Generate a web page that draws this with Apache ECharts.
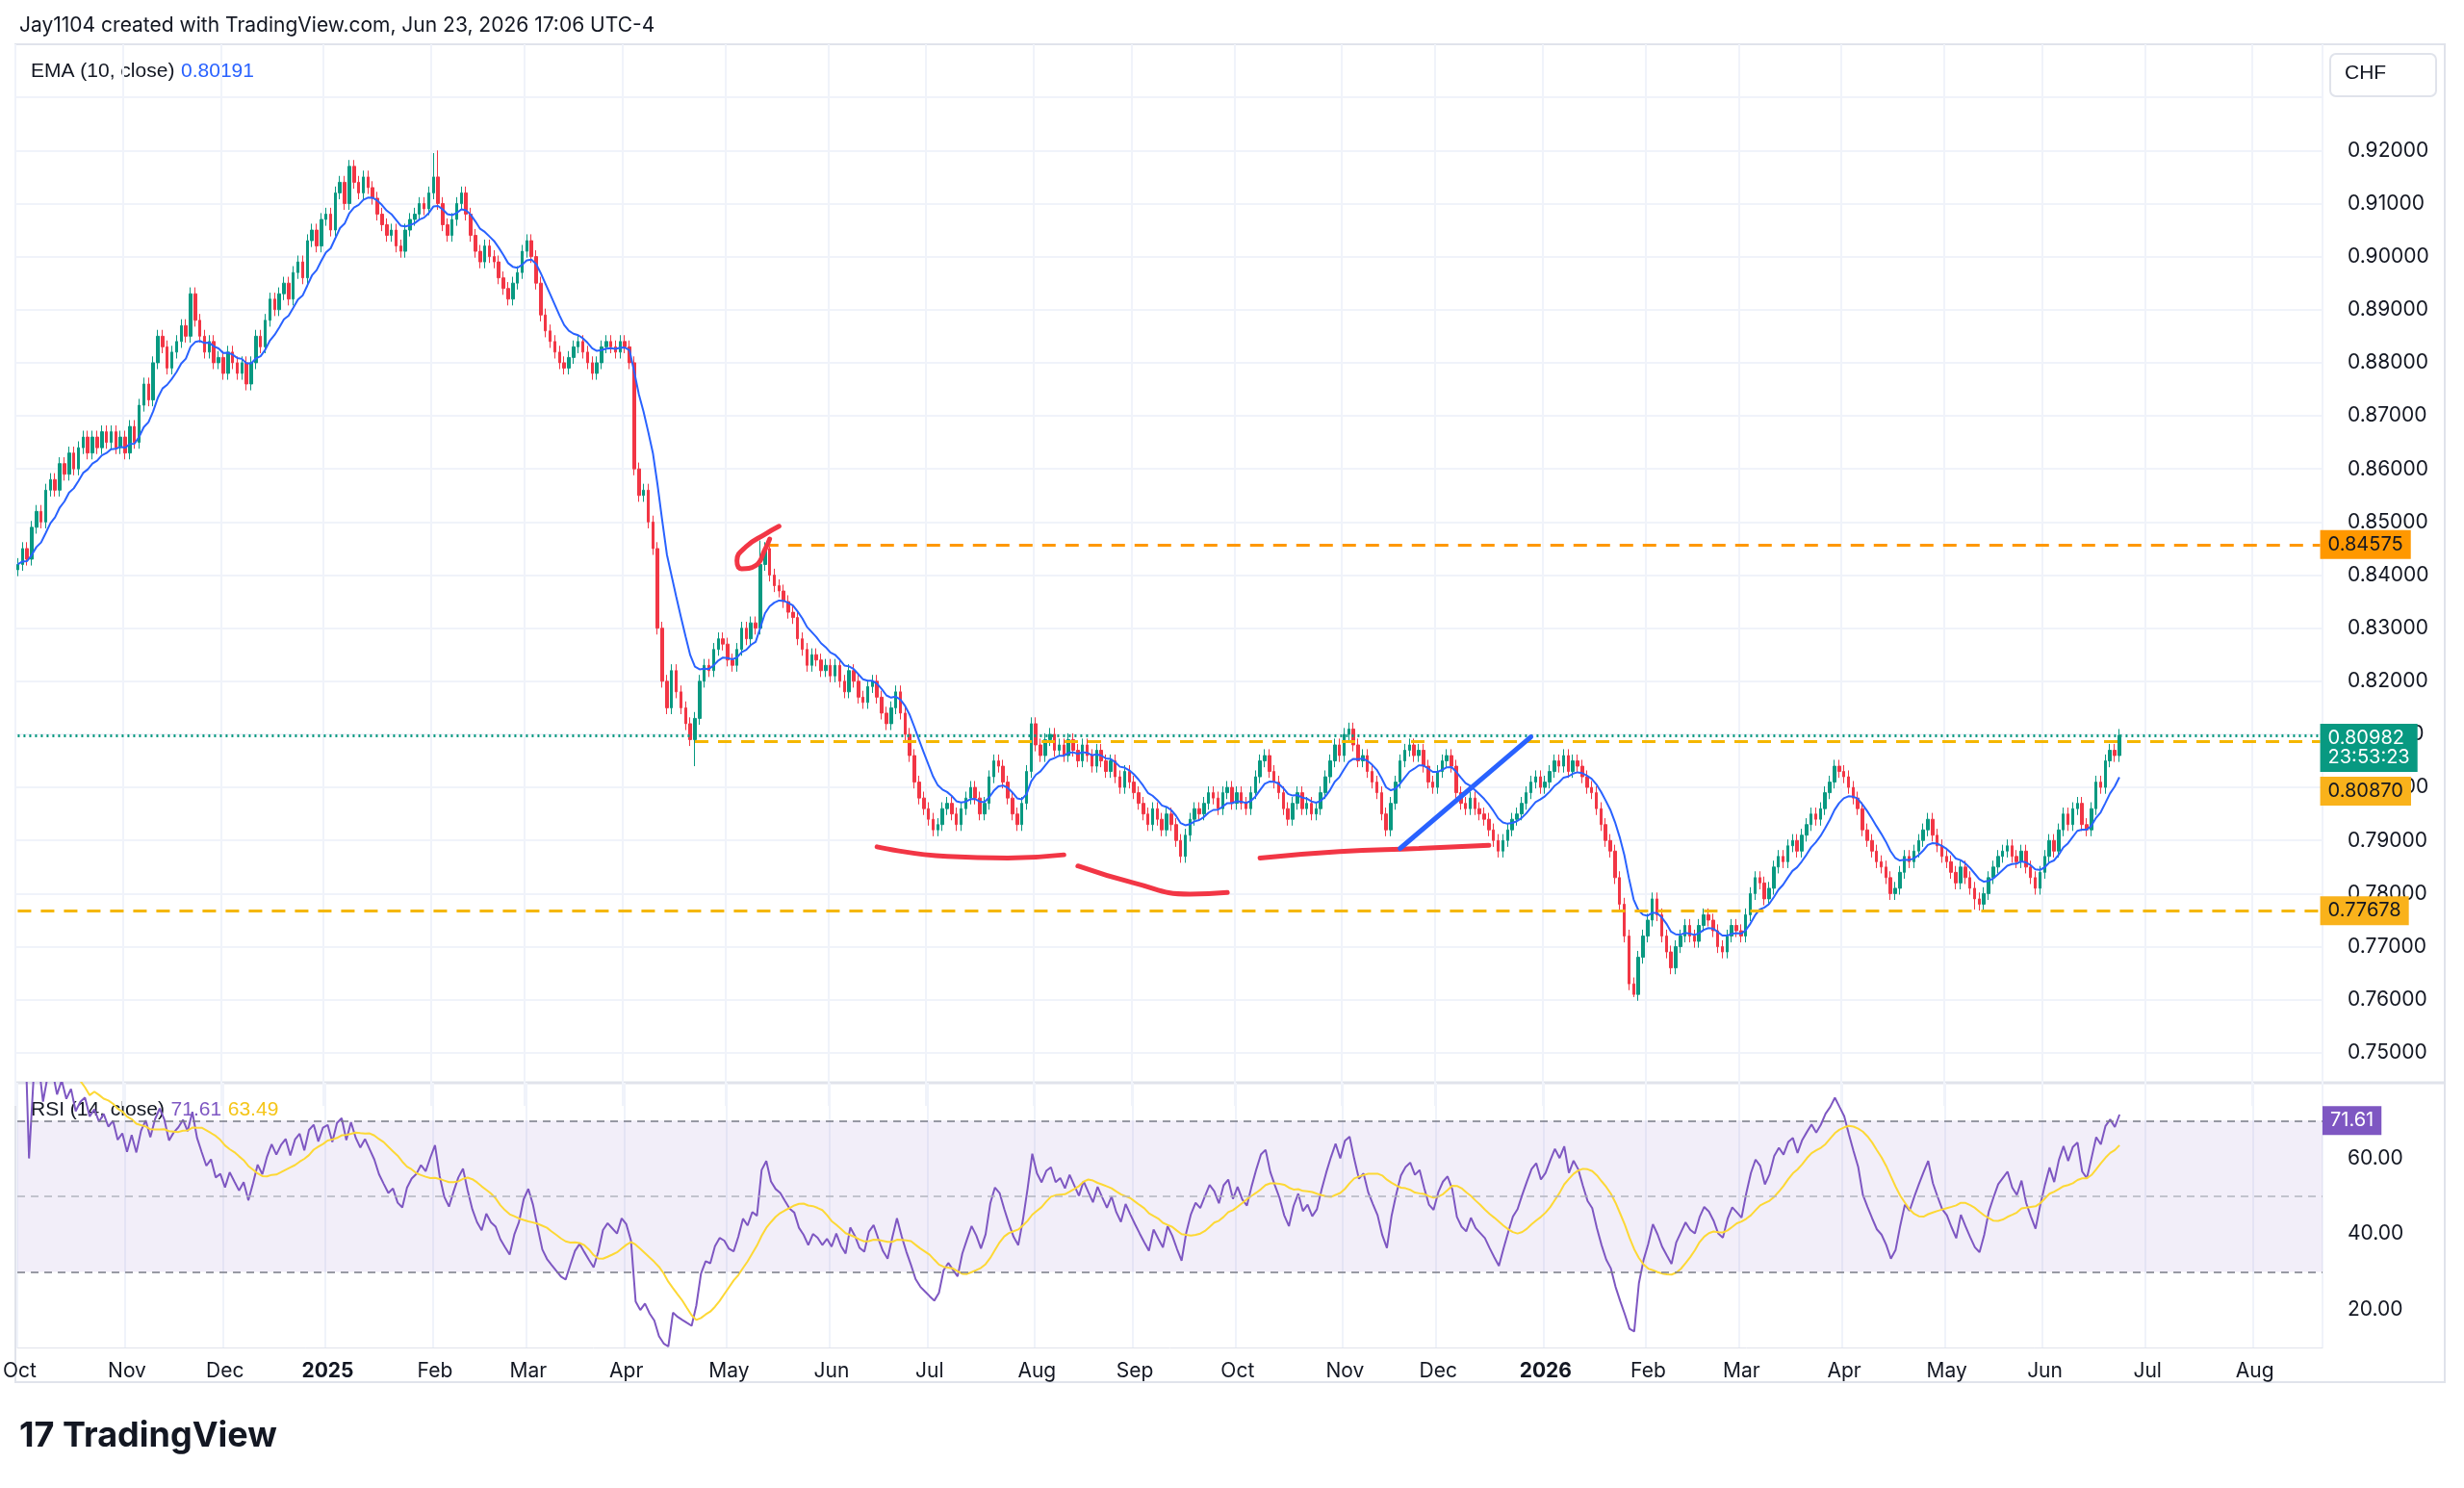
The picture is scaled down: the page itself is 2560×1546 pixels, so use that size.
<!DOCTYPE html>
<html style="height: 100%">
<head>
<meta charset="utf-8">
<script src="https://cdn.jsdelivr.net/npm/echarts@6/dist/echarts.min.js"></script>
</head>
<body style="height: 100%; margin: 0; background: #fff">
<div id="container" style="height: 100%"></div>
<script>
// daily closes, USD/CHF, by month
var closes = [].concat(
 [0.8420,0.8450,0.8430,0.8490,0.8520,0.8500,0.8560,0.8580,0.8560,0.8610,0.8590,0.8630,0.8600,0.8640,0.8660,0.8630,0.8660,0.8640,0.8670,0.8650,0.8670,0.8640,0.8660],
 [0.8630,0.8680,0.8650,0.8720,0.8760,0.8730,0.8800,0.8850,0.8830,0.8790,0.8820,0.8840,0.8870,0.8850,0.8930,0.8880,0.8850,0.8820,0.8840,0.8800,0.8810],
 [0.8780,0.8820,0.8800,0.8780,0.8800,0.8760,0.8800,0.8850,0.8830,0.8880,0.8920,0.8900,0.8930,0.8950,0.8920,0.8970,0.8990,0.8960,0.9030,0.9050,0.9020,0.9070],
 [0.9080,0.9050,0.9120,0.9140,0.9100,0.9170,0.9140,0.9120,0.9150,0.9130,0.9110,0.9080,0.9060,0.9040,0.9050,0.9020,0.9010,0.9050,0.9070,0.9080,0.9100,0.9090,0.9120],
 [0.9150,0.9100,0.9060,0.9040,0.9070,0.9100,0.9120,0.9080,0.9040,0.9010,0.8990,0.9020,0.9000,0.8990,0.8960,0.8940,0.8920,0.8950,0.8970,0.9010],
 [0.9030,0.9000,0.8950,0.8890,0.8860,0.8840,0.8820,0.8800,0.8790,0.8810,0.8830,0.8840,0.8820,0.8800,0.8780,0.8800,0.8830,0.8840,0.8830,0.8820,0.8840],
 [0.8830,0.8800,0.8600,0.8550,0.8560,0.8500,0.8450,0.8300,0.8200,0.8150,0.8220,0.8180,0.8150,0.8120,0.8090,0.8130,0.8200,0.8230,0.8220,0.8260,0.8280,0.8270],
 [0.8240,0.8230,0.8260,0.8300,0.8280,0.8310,0.8300,0.8420,0.8450,0.8400,0.8380,0.8370,0.8350,0.8330,0.8320,0.8280,0.8260,0.8230,0.8250,0.8240,0.8220,0.8230],
 [0.8210,0.8230,0.8200,0.8180,0.8220,0.8200,0.8170,0.8160,0.8190,0.8200,0.8170,0.8140,0.8120,0.8150,0.8180,0.8140,0.8100,0.8060,0.8010,0.7980,0.7960],
 [0.7940,0.7920,0.7930,0.7960,0.7970,0.7950,0.7930,0.7960,0.7980,0.8000,0.7980,0.7950,0.7970,0.8020,0.8050,0.8040,0.8010,0.7980,0.7950,0.7930,0.7970,0.8030,0.8120],
 [0.8080,0.8060,0.8090,0.8100,0.8070,0.8080,0.8060,0.8090,0.8070,0.8050,0.8080,0.8060,0.8040,0.8070,0.8050,0.8030,0.8050,0.8020,0.8000,0.8030,0.8010],
 [0.7990,0.7970,0.7950,0.7930,0.7960,0.7940,0.7920,0.7950,0.7930,0.7900,0.7870,0.7910,0.7940,0.7960,0.7950,0.7970,0.7990,0.7980,0.7960,0.7990,0.8000,0.7970],
 [0.7990,0.7970,0.7960,0.7990,0.8020,0.8050,0.8060,0.8030,0.8010,0.7990,0.7960,0.7940,0.7970,0.7990,0.7960,0.7970,0.7950,0.7960,0.7990,0.8020,0.8050,0.8080,0.8060],
 [0.8100,0.8110,0.8080,0.8050,0.8060,0.8030,0.8010,0.7990,0.7950,0.7920,0.7970,0.8010,0.8050,0.8070,0.8080,0.8060,0.8070,0.8040,0.8010,0.8000],
 [0.8030,0.8050,0.8060,0.8040,0.7990,0.7970,0.7960,0.7980,0.7960,0.7950,0.7940,0.7920,0.7900,0.7880,0.7900,0.7920,0.7940,0.7950,0.7970,0.7990,0.8010,0.8020,0.8000],
 [0.8010,0.8030,0.8050,0.8040,0.8060,0.8030,0.8050,0.8040,0.8020,0.8000,0.7990,0.7960,0.7930,0.7900,0.7880,0.7830,0.7780,0.7720,0.7630,0.7610,0.7680,0.7720],
 [0.7750,0.7790,0.7760,0.7720,0.7690,0.7660,0.7700,0.7720,0.7740,0.7720,0.7710,0.7740,0.7760,0.7750,0.7730,0.7700,0.7690,0.7720,0.7740,0.7730],
 [0.7720,0.7760,0.7800,0.7830,0.7820,0.7790,0.7810,0.7850,0.7870,0.7860,0.7890,0.7900,0.7880,0.7910,0.7930,0.7950,0.7940,0.7960,0.7990,0.8010,0.8040,0.8030],
 [0.8020,0.8000,0.7980,0.7960,0.7920,0.7900,0.7880,0.7860,0.7850,0.7830,0.7800,0.7810,0.7840,0.7870,0.7860,0.7880,0.7900,0.7920,0.7940,0.7910,0.7890,0.7870],
 [0.7860,0.7840,0.7820,0.7850,0.7830,0.7810,0.7790,0.7780,0.7800,0.7830,0.7850,0.7870,0.7880,0.7890,0.7870,0.7860,0.7880,0.7850,0.7830,0.7810,0.7840],
 [0.7870,0.7900,0.7880,0.7920,0.7950,0.7930,0.7960,0.7970,0.7930,0.7920,0.7960,0.8010,0.8000,0.8050,0.8070,0.8060,0.8098]
);
var firstOpen = 0.8410;
// a few notable wick extremes [index, high, low]
var wickOverrides = [[89, 0.9195, null], [90, 0.9200, null], [145, null, 0.8040], [159, 0.8465, null], [346, null, 0.7605], [419, null, 0.7770]];
var wick = 0.0012;

var levels = {resist: 0.84575, mid: 0.80870, support: 0.77678, last: 0.80982};
var loopPts = [[163,0.8492],[159.6,0.8477],[156,0.8454],[154,0.8427],[155,0.8412],[157.6,0.8418],[159.6,0.8448],[160.6,0.8468]];
var arc1 = [[183.8,0.7888],[198.7,0.7870],[212,0.7867],[224,0.7873]];
var arc2 = [[227,0.7852],[239,0.7820],[251,0.7799],[258.6,0.7802]];
var arc3 = [[266,0.7867],[283,0.7879],[299.7,0.7885],[314.8,0.7891]];
var blueLine = [[295.6,0.7885],[324,0.8095]];

var monthNames = ['Jan','Feb','Mar','Apr','May','Jun','Jul','Aug','Sep','Oct','Nov','Dec'];

// weekday categories
var dates = [];
var d = new Date(Date.UTC(2024, 9, 1));
while (dates.length < 494) {
  var wd = d.getUTCDay();
  if (wd !== 0 && wd !== 6) dates.push(d.toISOString().slice(0, 10));
  d.setUTCDate(d.getUTCDate() + 1);
}
var monthStart = {};
dates.forEach(function (s, i) { if (i === 0 || s.slice(5, 7) !== dates[i - 1].slice(5, 7)) monthStart[i] = true; });

var candles = closes.map(function (c, i) {
  var o = i === 0 ? firstOpen : closes[i - 1];
  return [o, c, Math.min(o, c) - wick, Math.max(o, c) + wick];
});
wickOverrides.forEach(function (w) {
  if (!candles[w[0]]) return;
  if (w[1] != null) candles[w[0]][3] = w[1];
  if (w[2] != null) candles[w[0]][2] = w[2];
});

// EMA 10
var ema = [], k = 2 / 11;
closes.forEach(function (c, i) { ema.push(i === 0 ? c : c * k + ema[i - 1] * (1 - k)); });
// RSI 14 (Wilder) and its 14 SMA
var rsi = [], ag = 0, al = 0;
for (var i = 1; i < closes.length; i++) {
  var ch = closes[i] - closes[i - 1], g = Math.max(ch, 0), l = Math.max(-ch, 0);
  if (i <= 14) { ag += g / 14; al += l / 14; } else { ag = (ag * 13 + g) / 14; al = (al * 13 + l) / 14; }
  rsi[i] = al === 0 ? 100 : 100 - 100 / (1 + ag / al);
}
rsi[0] = rsi[1];
var rsiMa = rsi.map(function (v, i) {
  var s = 0, n = 0;
  for (var j = Math.max(0, i - 13); j <= i; j++) { s += rsi[j]; n++; }
  return s / n;
});
var lastEma = ema[ema.length - 1], lastRsi = rsi[rsi.length - 1], lastMa = rsiMa[rsiMa.length - 1];
var lastIdx = dates.length - 1;

var FONT = 'Inter, Roboto, sans-serif';
var UP = '#089981', DOWN = '#f23645';

function tag(bg, text, color, offY) {
  return { show: true, position: 'end', distance: 0, backgroundColor: bg, color: color || '#fff',
    padding: [5, 8], fontSize: 20, fontFamily: FONT, formatter: text, offset: [0, offY || 0] };
}
function hline(y, x0, color, type, lbl) {
  return [{ coord: [x0, y], lineStyle: { color: color, type: type, width: 3 }, label: lbl }, { coord: [lastIdx, y] }];
}
function curve(name, pts, color) {
  return { name: name, type: 'line', data: pts, smooth: 0.5, showSymbol: false, silent: true,
    lineStyle: { color: color, width: 5, cap: 'round' }, xAxisIndex: 0, yAxisIndex: 0, z: 5 };
}

var chart = echarts.init(document.getElementById('container'));
chart.setOption({
  animation: false,
  backgroundColor: '#ffffff',
  textStyle: { fontFamily: FONT },
  grid: [
    { left: 16, right: 147, top: 46, height: 1103 },
    { left: 16, right: 147, top: 1125, height: 275 }
  ],
  xAxis: [0, 1].map(function (g) {
    return {
      type: 'category', gridIndex: g, data: dates, boundaryGap: true,
      axisLine: { show: g === 1, lineStyle: { color: '#e0e3eb' } }, axisTick: { show: false },
      splitLine: { show: true, interval: function (i) { return !!monthStart[i]; }, lineStyle: { color: '#f0f3fa', width: 2 } },
      axisLabel: {
        show: g === 1, interval: function (i) { return !!monthStart[i]; }, color: '#131722', fontSize: 21, margin: 14,
        formatter: function (v) {
          var m = +v.slice(5, 7);
          return m === 1 ? '{b|' + v.slice(0, 4) + '}' : monthNames[m - 1];
        },
        rich: { b: { fontWeight: 'bold', fontSize: 21, color: '#131722' } }
      }
    };
  }),
  yAxis: [
    { type: 'value', gridIndex: 0, position: 'right', min: 0.74, max: 0.94, interval: 0.01,
      axisLine: { show: false }, axisTick: { show: false },
      splitLine: { showMinLine: false, showMaxLine: false, lineStyle: { color: '#f0f3fa', width: 2 } },
      axisLabel: { color: '#131722', fontSize: 21, margin: 26,
        formatter: function (v) { return (v > 0.745 && v < 0.925) ? v.toFixed(5) : ''; } } },
    { type: 'value', gridIndex: 1, position: 'right', min: 10, max: 80, interval: 10,
      axisLine: { show: false }, axisTick: { show: false },
      splitLine: { show: false },
      axisLabel: { color: '#131722', fontSize: 21, margin: 26,
        formatter: function (v) { return (v === 20 || v === 40 || v === 60) ? v.toFixed(2) : ''; } } }
  ],
  series: [
    { name: 'USDCHF', type: 'candlestick', data: candles, barWidth: 3,
      itemStyle: { color: UP, color0: DOWN, borderColor: UP, borderColor0: DOWN, borderWidth: 1 },
      markLine: { symbol: 'none', silent: true, animation: false,
        data: [
          hline(levels.resist, 160, '#ff9800', [14, 10], tag('#ff9800', levels.resist.toFixed(5), '#131722')),
          hline(levels.mid, 145, '#f5b700', [14, 10], tag('#f9b21b', levels.mid.toFixed(5), '#131722', 52)),
          hline(levels.support, 0, '#f5b700', [14, 10], tag('#f9b21b', levels.support.toFixed(5), '#131722')),
          hline(levels.last, 0, UP, [2, 4], tag(UP, levels.last.toFixed(5) + '\n23:53:23', '#fff', 13)),
          [{ coord: [lastIdx, lastEma], lineStyle: { opacity: 0 }, label: tag('#2962ff', lastEma.toFixed(5), '#fff', 52) }, { coord: [lastIdx, lastEma] }]
        ] }
    },
    { name: 'EMA', type: 'line', data: ema, showSymbol: false, lineStyle: { color: '#2962ff', width: 2 }, z: 3 },
    curve('loop', loopPts, DOWN),
    curve('arc1', arc1, DOWN),
    curve('arc2', arc2, DOWN),
    curve('arc3', arc3, DOWN),
    curve('trend', blueLine, '#2962ff'),
    { name: 'RSI', type: 'line', xAxisIndex: 1, yAxisIndex: 1, data: rsi, showSymbol: false,
      lineStyle: { color: '#7e57c2', width: 2 },
      markArea: { silent: true, itemStyle: { color: 'rgba(126,87,194,0.1)' }, data: [[{ yAxis: 30 }, { yAxis: 70 }]] },
      markLine: { symbol: 'none', silent: true,
        data: [
          { yAxis: 70, lineStyle: { color: '#787b86', type: [8, 6], width: 1.5 }, label: tag('#7e57c2', lastRsi.toFixed(2)) },
          { yAxis: 50, lineStyle: { color: '#b2b5be', type: [8, 6], width: 1.5 }, label: { show: false } },
          { yAxis: 30, lineStyle: { color: '#787b86', type: [8, 6], width: 1.5 }, label: { show: false } },
          { yAxis: lastMa, lineStyle: { opacity: 0 }, label: tag('#fdd835', lastMa.toFixed(2), '#131722') }
        ] } },
    { name: 'RSI MA', type: 'line', xAxisIndex: 1, yAxisIndex: 1, data: rsiMa, showSymbol: false,
      lineStyle: { color: '#fdd835', width: 2 } }
  ],
  graphic: [
    { type: 'rect', shape: { x: 16, y: 46, width: 2524, height: 1390 }, style: { fill: 'none', stroke: '#e0e3eb', lineWidth: 2 }, silent: true },
    { type: 'line', shape: { x1: 16, y1: 1125, x2: 2540, y2: 1125 }, style: { stroke: '#e0e3eb', lineWidth: 3 } },
    { type: 'text', left: 20, top: 16, style: { text: 'Jay1104 created with TradingView.com, Jun 23, 2026 17:06 UTC-4', fill: '#131722', fontSize: 21, fontFamily: FONT } },
    { type: 'text', left: 32, top: 64, style: { rich: { a: { fill: '#131722', fontSize: 21 }, v: { fill: '#2962ff', fontSize: 21 } },
      text: '{a|EMA (10, close)}  {v|' + lastEma.toFixed(5) + '}' } },
    { type: 'text', left: 32, top: 1143, style: { rich: { a: { fill: '#131722', fontSize: 21 }, p: { fill: '#7e57c2', fontSize: 21 }, y: { fill: '#f5c518', fontSize: 21 } },
      text: '{a|RSI (14, close)}  {p|' + lastRsi.toFixed(2) + '}  {y|' + lastMa.toFixed(2) + '}' } },
    { type: 'rect', shape: { x: 2421, y: 56, width: 110, height: 44, r: 6 }, style: { fill: '#fff', stroke: '#e0e3eb', lineWidth: 2 } },
    { type: 'text', left: 2436, top: 66, style: { text: 'CHF', fill: '#131722', fontSize: 21 } },
    { type: 'text', left: 20, top: 1474, style: { text: '17 TradingView', fill: '#131722', fontSize: 36, fontWeight: 'bold', fontFamily: FONT } }
  ]
});
</script>
</body>
</html>
